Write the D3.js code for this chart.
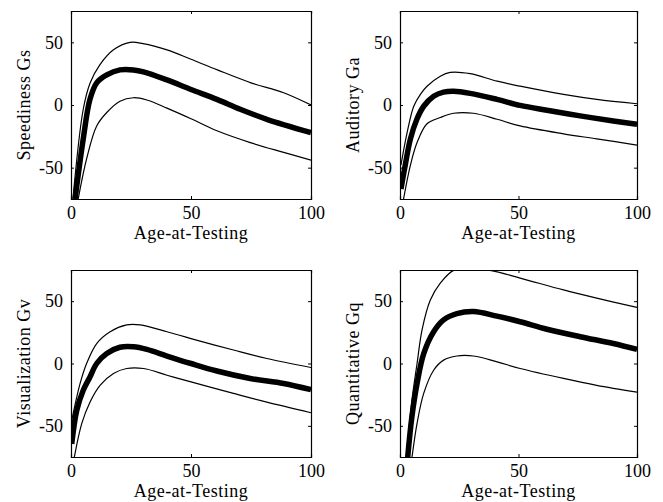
<!DOCTYPE html>
<html>
<head>
<meta charset="utf-8">
<script src="https://cdn.jsdelivr.net/npm/d3@7"></script>
<style>
  body { margin: 0; background: #fff; }
  text { font-family: "Liberation Serif", "Times New Roman", serif; fill: #000; }
</style>
</head>
<body>
<div class="chart"></div>
<script>
var svgWidth = 663;
var svgHeight = 502;

// ages and curves (mean, upper band, lower band)
var gsMean  = [[1.7,-75],[5.1,-27],[7.9,4.5],[10.7,17.7],[14.9,24],[20.4,28],[26,28],[30.2,26.5],[40,20],[50,12.4],[60.8,4.5],[70.5,-3.4],[81.6,-11.4],[100,-22]];
var gsUpper = [[0.8,-75],[5.1,-3.4],[8,17.7],[12,32],[17.7,44],[24.6,50],[30,49],[40,44],[50,36.5],[61,28],[75,17.7],[88.6,9.8],[100,0]];
var gsLower = [[3,-75],[6.5,-43],[10.7,-16.7],[14.9,-6],[20.4,3],[26,5.8],[31.6,4],[40,-2.5],[50,-11],[60.8,-20.6],[74.7,-30],[88.6,-37.8],[100,-44]];

var gaMean  = [[0.4,-67],[2.2,-48],[4.4,-27],[7.2,-11],[10,-1],[14.2,7],[18.4,10.3],[22.6,11],[29.6,9.3],[40.9,4.5],[50.7,-0.3],[62,-4.2],[76,-8.7],[90,-12.7],[100,-15.3]];
var gaUpper = [[0.4,-48],[3,-22],[5.8,-1],[8.6,8.5],[11.4,15],[17,23],[21.2,26],[29.6,25],[41,19],[50.7,15],[69,8.5],[83,4.5],[100,1]];
var gaLower = [[1.5,-75],[4.4,-48],[7.2,-30],[11.4,-15],[17,-10],[22.6,-6.6],[31,-6.6],[41,-11.4],[50.7,-16.7],[69,-23],[83,-27],[100,-32]];

var gvMean  = [[0.3,-64.5],[2.4,-37.6],[5.1,-21.5],[7.9,-10.8],[10.7,0],[14.9,8],[20.4,13],[26,13.4],[31.6,11.3],[40,6],[50,0],[60.8,-6],[74.7,-12],[88.6,-16],[100,-21]];
var gvUpper = [[0.3,-45.7],[3.8,-16],[6.5,0],[10.7,16],[16.3,25.5],[23.2,31],[28.8,31],[40,25.5],[50,20],[67.7,10.8],[81.6,4],[100,-3.2]];
var gvLower = [[1.3,-76],[4.5,-48],[7.9,-31],[12.1,-17.5],[17.7,-8],[23.2,-4],[30.2,-4],[40,-9.4],[50,-14.8],[67.7,-24],[81.6,-31],[100,-39.5]];

var gqMean  = [[3.2,-76],[5,-43],[7.2,-16],[10,8],[14.2,25.5],[18.4,35],[24,40],[31,41.7],[40.9,38],[50.7,33.5],[62,27.5],[76,21.5],[90,16],[100,11.3]];
var gqUpper = [[2.7,-76],[5,-30],[7.2,0],[9.3,27],[12.8,51],[17,64.5],[22.6,74.7],[26.8,76],[38,74.7],[50.7,68.5],[69,59],[83,52.4],[100,45]];
var gqLower = [[5,-76],[7.2,-48],[10,-24],[14.2,-5.4],[18.4,2.7],[24,6],[31,6],[41,1.3],[50.7,-4],[69,-12],[83,-17.5],[100,-23]];

var yLabels = ["Speediness Gs", "Auditory Ga", "Visualization Gv", "Quantitative Gq"];
var xTicks = [0, 50, 100];
var yTicks = [-50, 0, 50];

var panels = [
  {label: yLabels[0], mean: gsMean, upper: gsUpper, lower: gsLower, x: 71,  y: 11,  w: 240, h: 188},
  {label: yLabels[1], mean: gaMean, upper: gaUpper, lower: gaLower, x: 400, y: 11,  w: 237, h: 188},
  {label: yLabels[2], mean: gvMean, upper: gvUpper, lower: gvLower, x: 71,  y: 270, w: 240, h: 187},
  {label: yLabels[3], mean: gqMean, upper: gqUpper, lower: gqLower, x: 400, y: 270, w: 237, h: 187}
];

var svg = d3.select(".chart")
  .append("svg")
  .attr("width", svgWidth)
  .attr("height", svgHeight);

panels.forEach(function(p, i) {
  var g = svg.append("g")
    .attr("transform", `translate(${p.x}, ${p.y})`);

  var x = d3.scaleLinear().domain([0, 100]).range([0, p.w]);
  var y = d3.scaleLinear().domain([-75, 75]).range([p.h, 0]);

  g.append("clipPath")
    .attr("id", "clip" + i)
    .append("rect")
    .attr("width", p.w)
    .attr("height", p.h);

  var line = d3.line()
    .x(d => x(d[0]))
    .y(d => y(d[1]))
    .curve(d3.curveCatmullRom.alpha(0.5));

  var curves = g.append("g").attr("clip-path", `url(#clip${i})`);
  [p.upper, p.lower].forEach(function(c) {
    curves.append("path")
      .attr("d", line(c))
      .attr("fill", "none")
      .attr("stroke", "#000")
      .attr("stroke-width", 1.2);
  });
  curves.append("path")
    .attr("d", line(p.mean))
    .attr("fill", "none")
    .attr("stroke", "#000")
    .attr("stroke-width", 5.5);

  // box frame with inward ticks on all sides
  var fmt = d => String(d);
  g.append("g")
    .attr("transform", `translate(0, ${p.h})`)
    .call(d3.axisBottom(x).tickValues(xTicks).tickSize(-3).tickPadding(7).tickFormat(fmt));
  g.append("g")
    .call(d3.axisTop(x).tickValues(xTicks).tickSize(-3).tickFormat(""));
  g.append("g")
    .call(d3.axisLeft(y).tickValues(yTicks).tickSize(-3).tickPadding(8).tickFormat(fmt));
  g.append("g")
    .attr("transform", `translate(${p.w}, 0)`)
    .call(d3.axisRight(y).tickValues(yTicks).tickSize(-3).tickFormat(""));

  g.selectAll(".domain").attr("stroke", "#000").attr("stroke-width", 1.2);
  g.selectAll(".tick line").attr("stroke", "#000");
  g.selectAll(".tick text")
    .attr("font-size", 18)
    .style("font-family", "'Liberation Serif', serif");

  g.append("text")
    .attr("x", p.w / 2)
    .attr("y", p.h + 40)
    .attr("text-anchor", "middle")
    .attr("font-size", 18)
    .attr("letter-spacing", 0.5)
    .text("Age-at-Testing");

  g.append("text")
    .attr("transform", `translate(-41, ${p.h / 2}) rotate(-90)`)
    .attr("text-anchor", "middle")
    .attr("font-size", 18)
    .attr("letter-spacing", 0.5)
    .text(p.label);
});
</script>
</body>
</html>
